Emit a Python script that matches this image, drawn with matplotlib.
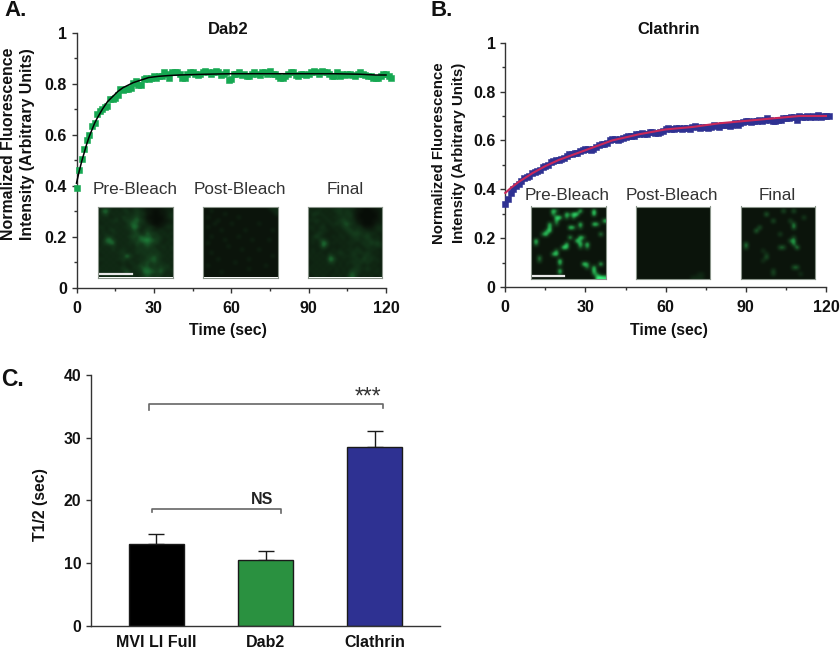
import numpy as np
import matplotlib
matplotlib.use("Agg")
import matplotlib.pyplot as plt
from matplotlib.colors import LinearSegmentedColormap

plt.rcParams['font.family'] = ['Liberation Sans', 'DejaVu Sans']

# Dab2 recovery, one reading per second
dab2_time = list(range(0, 123))
dab2_values = [.39, .46, .505, .545, .58, .60, .635, .645, .68, .695, .70, .71, .715, .74, .74, .745,
               .755, .78, .775, .78, .78, .785, .805, .81, .795, .795, .82, .825, .82, .825, .83, .825,
               .83, .83, .845, .84, .825, .845, .845, .845, .84, .825, .825, .84, .845, .845, .84, .835,
               .84, .845, .85, .845, .84, .845, .85, .845, .835, .84, .845, .815, .82, .84, .84, .845,
               .835, .84, .83, .83, .84, .845, .84, .835, .845, .845, .84, .85, .84, .84, .83, .825,
               .825, .83, .84, .845, .845, .835, .83, .84, .84, .835, .84, .845, .85, .845, .84, .85,
               .845, .845, .84, .83, .83, .845, .83, .84, .835, .84, .84, .835, .83, .84, .845, .84,
               .835, .83, .83, .825, .825, .825, .83, .84, .84, .83, .825]
dab2_fit_time = [0, 1, 2, 3, 4, 5, 6, 7, 8, 10, 12, 14, 16, 18, 20, 22, 25, 28, 32, 36, 40, 50, 60, 80, 100, 110, 116, 120]
dab2_fit = [.41, .455, .495, .53, .565, .595, .62, .645, .665, .70, .73, .75, .77, .785, .795, .805, .815,
            .825, .83, .833, .835, .838, .84, .84, .84, .838, .835, .835]

# Clathrin recovery
clathrin_time = list(range(0, 122))
clathrin_values = [.34, .36, .385, .40, .415, .42, .435, .445, .45, .455, .465, .47, .475, .48, .49, .495,
                   .50, .51, .515, .52, .52, .525, .53, .535, .545, .545, .55, .55, .555, .56, .565, .565,
                   .56, .565, .575, .58, .585, .585, .59, .60, .605, .605, .60, .605, .61, .615, .62, .62,
                   .62, .625, .625, .63, .625, .625, .635, .635, .63, .63, .635, .64, .645, .65, .645, .645,
                   .65, .65, .645, .65, .65, .645, .655, .66, .655, .65, .655, .655, .65, .655, .665, .66,
                   .655, .665, .665, .665, .66, .665, .67, .665, .67, .675, .68, .68, .675, .68, .68, .685,
                   .68, .685, .69, .685, .68, .68, .685, .685, .69, .69, .69, .695, .695, .685, .70, .695,
                   .695, .70, .695, .70, .695, .705, .695, .70, .70, .70]
clathrin_fit_time = [0, 2, 5, 10, 15, 20, 30, 40, 50, 60, 70, 80, 90, 100, 110, 120]
clathrin_fit = [.385, .405, .43, .465, .495, .52, .56, .60, .625, .645, .655, .67, .68, .69, .70, .70]

# T1/2 bars
bar_labels = ['MVI LI Full', 'Dab2', 'Clathrin']
bar_values = [13.1, 10.5, 28.5]
bar_errors = [1.5, 1.5, 2.6]
bar_colors = ['#000000', '#2a9140', '#2e3192']

x_ticks = [0, 30, 60, 90, 120]
y_ticks = [0, .2, .4, .6, .8, 1]
y_tick_labels = ['0', '0.2', '0.4', '0.6', '0.8', '1']

# Micrographs, hand read brightness levels 0-9
a_pre = ["2333222322332211111222", "2673232342343211001122", "2452323233343311001123", "3232232433453210000123",
         "2323342344564311000112", "2232323235653321001122", "3323232334763233211233", "2323423233542343223222",
         "2332332323453364432323", "3244323234546555343232", "2367432323446786543223", "2356723233354565442232",
         "2323332323243454323323", "3232423332334343432323", "2323233423243434343232", "2232323384323344543323",
         "3323233433233345643232", "2232322323323454543323", "2323232322335453434342", "3232323432334665445433",
         "2323232363233676546323", "2232323232323454343232"]
a_post = ["1111111111111111111222", "1121111111111111111122", "1111112111111111111112", "1211111111211111111111",
          "1111211111111111111111", "1112111121111111211111", "1211111111111111111111", "1111121111112111111121",
          "1111111111111111111111", "1121111111211111111111", "1111112111111121111211", "1211111111111111111111",
          "1111111211111111111111", "1111111111121111211111", "1121111111111111111111", "1111111111111111111121",
          "1111211111111211111111", "1111111112111111111111", "1211111111111111112111", "1111111111111211111111",
          "1111121111111111111111", "1111111111111111111111"]
a_final = ["2323323334333311001122", "3233232344343211000112", "2443323234344210000012", "2322332333434210000012",
           "3343233234543311000112", "2232323343564321000122", "3323422323453333111233", "2323332232345343322233",
           "2234322223234554343322", "2353222323323443453232", "2324532232323343344332", "2323862323233323435453",
           "2223742222323232343343", "2322322323233343233322", "2323223234323434343232", "3232326423333432443322",
           "2323238632323343534332", "2232325423233434343232", "2323232323232343232322", "3232323232323443343232",
           "2323232232325543232332", "2232322323236632323223"]
b_pre = ["1111111111111111111111", "1111119511111191119111", "1111116111939911119111", "1111111991616111111111",
         "1111111711111111111118", "1111181511111191119711", "1111181111197151111111", "1111591111111111111111",
         "1116911111111111111171", "1111111111181195111111", "1911111111111951111111", "1611111111811191911111",
         "1111111119811151611111", "1111111611111111111111", "1111117911111111111111", "1161111111111111111111",
         "1151111191111111111111", "1111111171111119711191", "1111111111111111618111", "1111111191111111119111",
         "1111111151111111116511", "1111111111111111111998"]
b_post = ["1111111111111111111111", "1111111111111111111111", "1111111111111111111111", "1111111111111111111111",
          "1111111111111111111111", "1111111111111111111111", "1111111111111111111111", "1111111111111111111111",
          "1111111111111111111111", "1111111111111111111111", "1111111111111111111111", "1111111111111111111111",
          "1111111111111111111111", "1111111111111111111111", "1111111111111111111111", "1111111111111111111111",
          "1111111111111111111111", "1111111111111111111111", "1111111111111111111111", "1111111111111111111111",
          "1111111111111111112211", "1111111111111111222211"]
b_final = ["1111111111111111111111", "1111111111115115111111", "1111111611111111111111", "1111111111111111114111",
           "1111111115111141111111", "1111111111111116111111", "1111151111111116111111", "1111611111111111111111",
           "1111111111141111111111", "1111111111111114111111", "1111111111111157111111", "1611111111111116111111",
           "1511111111155111711111", "1111113111111111111111", "1111111311111111111111", "1111111511111111111111",
           "1111113111111111111111", "1111111111111111111111", "1111111111111115511111", "1111111114111111111111",
           "1111111114111111131111", "1111111111111111111111"]

bracket_all = [[-0.065, -0.065, 2.08, 2.08], [34.4, 35.4, 35.4, 34.7]]
bracket_ns = [[-0.04, -0.04, 1.14, 1.14], [18.1, 18.7, 18.7, 18.0]]

W, H = 840, 650
cell_cmap = LinearSegmentedColormap.from_list(
    'gfp', [(0, '#030603'), (1 / 8, '#0b140b'), (3 / 8, '#153d1d'), (5 / 8, '#1f8a3e'), (1, '#38f07c')])
AXIS = '#333333'
GRAY = '#333333'


def px_axes(fig, left, right, top, bottom):
    return fig.add_axes([left / W, 1 - bottom / H, (right - left) / W, (bottom - top) / H])


def put(fig, x, y, s, **kw):
    kw.setdefault('ha', 'center')
    kw.setdefault('va', 'center')
    fig.text(x / W, 1 - y / H, s, **kw)


def style(ax):
    ax.spines['top'].set_visible(False)
    ax.spines['right'].set_visible(False)
    for side in ['left', 'bottom']:
        ax.spines[side].set_color(AXIS)
        ax.spines[side].set_linewidth(1.0)
    ax.patch.set_alpha(0)
    ax.tick_params(axis='both', which='major', length=3.5, width=1, color=AXIS, labelsize=11.5)
    ax.tick_params(axis='both', which='minor', length=2.2, width=1, color=AXIS)
    for t in ax.get_xticklabels() + ax.get_yticklabels():
        t.set_fontweight('bold')
        t.set_color('#111111')


def recovery(fig, box, t, vals, ft, fit, color, fit_color, fit_lw):
    ax = px_axes(fig, *box)
    ax.plot(t, vals, ls='none', marker='s', ms=4.6, color=color, mec=color, mew=0.4, clip_on=False, zorder=3)
    ax.plot(ft, fit, color=fit_color, lw=fit_lw, zorder=4, clip_on=False)
    ax.set_xlim(0, 120)
    ax.set_ylim(0, 1)
    ax.set_xticks(x_ticks)
    ax.set_xticks([15, 45, 75, 105], minor=True)
    ax.set_yticks(y_ticks)
    ax.set_yticklabels(y_tick_labels)
    ax.set_yticks([.1, .3, .5, .7, .9], minor=True)
    style(ax)
    ax.tick_params(axis='x', pad=6)
    return ax


def micro(fig, rows, left, top, w, h, bar=None, vmin=0, vmax=8):
    ax = px_axes(fig, left, left + w, top, top + h)
    img = np.array([[int(c) for c in r] for r in rows], dtype=float)
    ax.imshow(img, cmap=cell_cmap, vmin=vmin, vmax=vmax, interpolation='bicubic', aspect='auto')
    ax.set_xticks([])
    ax.set_yticks([])
    for s in ax.spines.values():
        s.set_color('#8a948a')
        s.set_linewidth(0.8)
    if bar is not None:
        # scale bar given as fractions of the inset
        ncol, nrow = len(rows[0]), len(rows)
        ax.plot([bar[0] * ncol - .5, bar[1] * ncol - .5], [bar[2] * nrow - .5] * 2, color='#e8e8e8', lw=1.6)
        ax.set_xlim(-.5, ncol - .5)
        ax.set_ylim(nrow - .5, -.5)


fig = plt.figure(figsize=(W / 100, H / 100), dpi=100, facecolor='white')

# panel A
recovery(fig, (76.5, 386, 33, 287.5), dab2_time, dab2_values, dab2_fit_time, dab2_fit, '#16a852', '#000000', 1.1)
put(fig, 228, 29, 'Dab2', fontsize=12, fontweight='bold', color='#111111')
put(fig, 228, 331, 'Time (sec)', fontsize=11.4, fontweight='bold', color='#111111')
put(fig, 18, 144, 'Normalized Fluorescence\nIntensity (Arbitrary Units)', rotation=90, fontsize=11.4,
    fontweight='bold', color='#111111', linespacing=1.35, multialignment='center')
put(fig, 16, 10.5, 'A.', fontsize=16, fontweight='bold', color='#111111')
for x, s in zip([135, 240, 345], ['Pre-Bleach', 'Post-Bleach', 'Final']):
    put(fig, x, 189, s, fontsize=12.3, color=GRAY)
micro(fig, a_pre, 98, 206.5, 74.5, 71, bar=(.02, .45, .955), vmin=-1, vmax=13)
micro(fig, a_post, 203, 206.5, 74.5, 71)
micro(fig, a_final, 307.5, 206.5, 74.5, 71, vmin=-1, vmax=14)

# panel B
recovery(fig, (505.3, 826, 42.7, 287), clathrin_time, clathrin_values, clathrin_fit_time, clathrin_fit,
         '#2e3192', '#c8285a', 1.5)
put(fig, 669, 29, 'Clathrin', fontsize=12, fontweight='bold', color='#111111')
put(fig, 669, 331, 'Time (sec)', fontsize=11.4, fontweight='bold', color='#111111')
put(fig, 449, 153, 'Normalized Fluorescence\nIntensity (Arbitrary Units)', rotation=90, fontsize=10.8,
    fontweight='bold', color='#111111', linespacing=1.5, multialignment='center')
put(fig, 442, 10.5, 'B.', fontsize=16, fontweight='bold', color='#111111')
for x, s in zip([567, 672, 777], ['Pre-Bleach', 'Post-Bleach', 'Final']):
    put(fig, x, 195, s, fontsize=12.3, color=GRAY)
micro(fig, b_pre, 531.3, 206.5, 74.2, 72.5, bar=(.02, .44, .955))
micro(fig, b_post, 636, 206.5, 74.2, 72.5)
micro(fig, b_final, 741, 206.5, 74.2, 72.5)

# panel C
ax = px_axes(fig, 91, 440, 375, 626)
pos = np.arange(len(bar_values))
ax.bar(pos, bar_values, width=0.5, color=bar_colors, edgecolor='#1a1a1a', linewidth=1, zorder=2)
ax.errorbar(pos, bar_values, yerr=[[0] * 3, bar_errors], fmt='none', ecolor='#1a1a1a', elinewidth=1,
            capsize=5.5, capthick=1, zorder=1)
ax.set_xlim(-0.6, 2.6)
ax.set_ylim(0, 40)
ax.set_xticks(pos)
ax.set_xticklabels(bar_labels)
ax.set_yticks([0, 10, 20, 30, 40])
style(ax)
ax.tick_params(axis='x', length=0, pad=6.5)
ax.tick_params(axis='y', labelsize=11.3)
ax.plot(bracket_all[0], bracket_all[1], color='#666666', lw=1.2, clip_on=False)
ax.plot(bracket_ns[0], bracket_ns[1], color='#666666', lw=1.2, clip_on=False)
put(fig, 41, 505, 'T1/2 (sec)', rotation=90, fontsize=11.4, fontweight='bold', color='#111111')
put(fig, 262, 499, 'NS', fontsize=11.5, fontweight='bold', color='#222222')
put(fig, 368, 397, '***', fontsize=16.5, color='#333333')
put(fig, 12, 379, 'C.', fontsize=16.5, fontweight='bold', color='#111111')

fig.savefig('out.png', dpi=100)
